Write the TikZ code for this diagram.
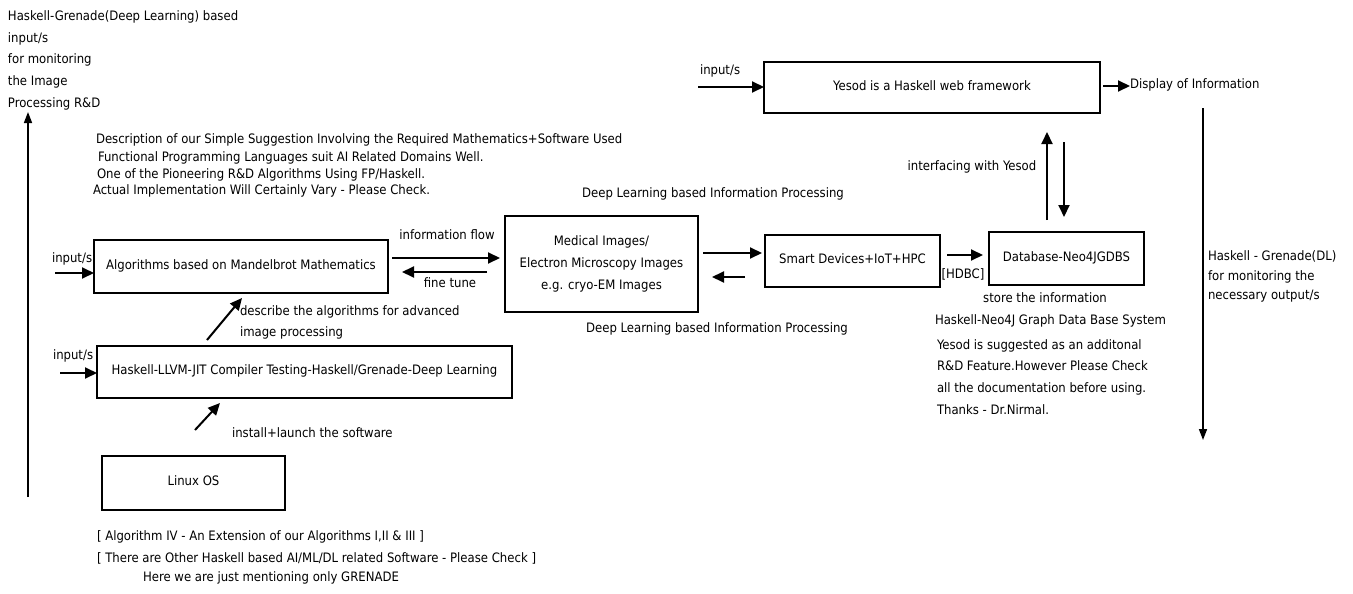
\documentclass[tikz,border=0pt]{standalone}
\usepackage{fontspec}
\setmainfont{DejaVu Sans Condensed}
\usetikzlibrary{arrows.meta}
\begin{document}
\begin{tikzpicture}[x=1pt,y=-1pt,
  every node/.style={inner sep=0pt, outer sep=0pt, font=\fontsize{13}{16}\selectfont, text height=0.75em, text depth=0.22em},
  box/.style={draw, line width=2.2pt, align=center},
  txt/.style={anchor=west},
  ctxt/.style={anchor=center},
  arr/.style={line width=2pt, -{Triangle[length=12pt,width=11pt]}},
  thin arr/.style={line width=1.6pt, -{Triangle[length=11pt,width=8pt]}}]
\useasboundingbox (0,0) rectangle (1353,594);

% boxes
\node[box, minimum width=294pt, minimum height=53pt] (alg) at (241,266.5) {Algorithms based on Mandelbrot Mathematics};
\node[box, minimum width=415pt, minimum height=52pt] (llvm) at (304.5,372) {Haskell-LLVM-JIT Compiler Testing-Haskell/Grenade-Deep Learning};
\node[box, minimum width=183pt, minimum height=54pt] (linux) at (193.5,483) {Linux OS};
\node[box, minimum width=193pt, minimum height=96pt, text height=, text depth=, font=\fontsize{13}{22}\selectfont] (med) at (601.5,264) {Medical Images/\\Electron Microscopy Images\\e.g. cryo-EM Images};
\node[box, minimum width=175pt, minimum height=52pt] (smart) at (852.5,261) {Smart Devices+IoT+HPC};
\node[box, minimum width=155pt, minimum height=53pt] (db) at (1066.5,258.5) {Database-Neo4JGDBS};
\node[box, minimum width=336pt, minimum height=51pt] (yesod) at (932,87.5) {Yesod is a Haskell web framework};

% top-left text
\node[txt] (tl1) at (8,18) {Haskell-Grenade(Deep Learning) based};
\node[txt] (tl2) at (8,40) {input/s};
\node[txt] (tl3) at (8,61) {for monitoring};
\node[txt] (tl4) at (8,83) {the Image};
\node[txt] (tl5) at (8,105) {Processing R\&D};

% description
\node[txt] (d1) at (96,141) {Description of our Simple Suggestion Involving the Required Mathematics+Software Used};
\node[txt] (d2) at (98,159) {Functional Programming Languages suit AI Related Domains Well.};
\node[txt] (d3) at (97,176) {One of the Pioneering R\&D Algorithms Using FP/Haskell.};
\node[txt] (d4) at (93,192) {Actual Implementation Will Certainly Vary - Please Check.};

% labels left
\node[txt] (in1) at (52,260) {input/s};
\node[txt] (in2) at (53,357) {input/s};
\node[ctxt] (lflow) at (447,237) {information flow};
\node[ctxt] (lfine) at (450,285) {fine tune};
\node[txt] (ldesc1) at (240,313) {describe the algorithms for advanced};
\node[txt] (ldesc2) at (240,334) {image processing};
\node[txt] (linst) at (232,435) {install+launch the software};

% bottom notes
\node[txt] (b1) at (97,538) {[ Algorithm IV - An Extension of our Algorithms I,II \& III ]};
\node[txt] (b2) at (97,560) {[ There are Other Haskell based AI/ML/DL related Software - Please Check ]};
\node[txt] (b3) at (143,579) {Here we are just mentioning only GRENADE};

% middle labels
\node[ctxt] (dl1) at (713,195) {Deep Learning based Information Processing};
\node[ctxt] (dl2) at (717,330) {Deep Learning based Information Processing};

% right side labels
\node[txt] (yin) at (700,72) {input/s};
\node[txt] (disp) at (1130,86) {Display of Information};
\node[ctxt] (iface) at (972,168) {interfacing with Yesod};
\node[ctxt] (hdbc) at (963,276) {[HDBC]};
\node[ctxt] (s1) at (1045,300) {store the information};
\node[txt] (s2) at (935,322) {Haskell-Neo4J Graph Data Base System};
\node[txt] (s3) at (937,347) {Yesod is suggested as an additonal};
\node[txt] (s4) at (937,368) {R\&D Feature.However Please Check};
\node[txt] (s5) at (937,390) {all the documentation before using.};
\node[txt] (s6) at (937,412) {Thanks - Dr.Nirmal.};
\node[txt] (r1) at (1208,258) {Haskell - Grenade(DL)};
\node[txt] (r2) at (1208,278) {for monitoring the};
\node[txt] (r3) at (1208,297) {necessary output/s};

% free ends
\coordinate (lvbot) at (28,497);
\coordinate (lvtop) at (28,112);
\coordinate (in1s) at (55,273);
\coordinate (in2s) at (60,373);
\coordinate (yins) at (698,87);
\coordinate (rvtop) at (1203,108);
\coordinate (rvbot) at (1203,440);

% connectors
\draw[thin arr] (lvbot) -- (lvtop);
\draw[arr] (in1s) -- (alg.west |- in1s);
\draw[arr] (in2s) -- (llvm.west |- in2s);
\draw[arr, shorten <=4pt, shorten >=5pt] ([yshift=8.5pt]alg.east) -- ([yshift=6pt]med.west);
\draw[arr, shorten <=18pt, shorten >=14pt] ([yshift=-8pt]med.west) -- ([yshift=-5.5pt]alg.east);
\draw[arr] ([xshift=-97.5pt,yshift=6pt]llvm.north) -- ([xshift=1pt,yshift=-5pt]alg.south);
\draw[arr] ([xshift=1.5pt,yshift=26pt]linux.north) -- ([xshift=-84.5pt,yshift=-5pt]llvm.south);
\draw[arr, shorten <=5pt, shorten >=3pt] ([yshift=11pt]med.east) -- ([yshift=8pt]smart.west);
\draw[arr, shorten <=20pt, shorten >=14pt] ([yshift=-16pt]smart.west) -- ([yshift=-13pt]med.east);
\draw[arr, shorten <=7pt, shorten >=6pt] ([yshift=6pt]smart.east) -- ([yshift=3.5pt]db.west);
\draw[arr] ([xshift=-19.5pt,yshift=12pt]db.north) -- ([xshift=115pt,yshift=-19pt]yesod.south);
\draw[arr] ([xshift=132pt,yshift=-29pt]yesod.south) -- ([xshift=-2.5pt,yshift=15pt]db.north);
\draw[arr] (yins) -- (yesod.west |- yins);
\draw[arr, shorten <=3pt] (yesod.east |- disp.west) -- (disp.west);
\draw[thin arr] (rvtop) -- (rvbot);
\end{tikzpicture}
\end{document}
